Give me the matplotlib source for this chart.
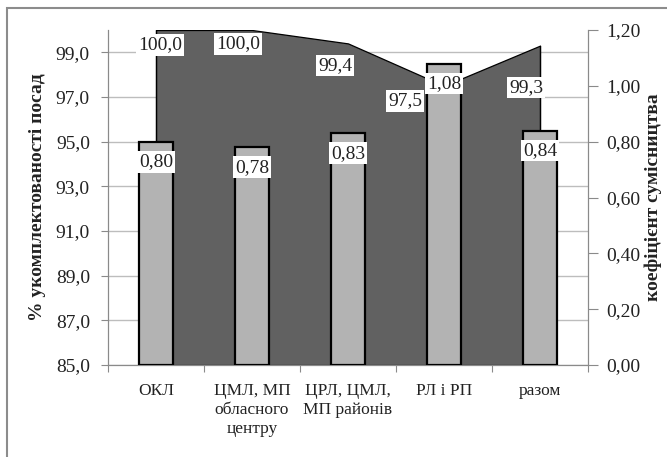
import matplotlib.pyplot as plt
from matplotlib.patches import Rectangle
from matplotlib.ticker import FixedLocator, FuncFormatter

plt.rcParams['font.family'] = ['Liberation Serif', 'DejaVu Serif']

# categories of facilities
categories = ['ОКЛ', 'ЦМЛ, МП\nобласного\nцентру', 'ЦРЛ, ЦМЛ,\nМП районів',
              'РЛ і РП', 'разом']
# % of staffed positions (left axis, area)
staffing = [100.0, 100.0, 99.4, 97.5, 99.3]
# part-time coefficient (right axis, bars)
part_time = [0.80, 0.78, 0.83, 1.08, 0.84]

# label offsets in pixels (dx, dy down) for the area values
area_offsets = [(4, 15), (-14, 14), (-13, 22), (-39, 15), (-14, 42)]
bar_offset = 20

fig = plt.figure(figsize=(6.67, 4.57), dpi=100)
ax = fig.add_axes([108 / 667, 1 - 365 / 457, 480 / 667, 335 / 457])
ax2 = ax.twinx()

x = list(range(len(categories)))
grid_c = '#bdbdbd'
spine_c = '#8a8a8a'
text_c = '#222222'
fs = 14

# area for staffing
ax.fill_between(x, 85, staffing, facecolor='#616161', edgecolor='black',
                linewidth=0.9, zorder=2)
ax.plot([x[0], x[0]], [85, staffing[0]], color='black', lw=0.9, zorder=3)
ax.plot([x[-1], x[-1]], [85, staffing[-1]], color='black', lw=0.9, zorder=3)
ax.set_xlim(-0.5, len(categories) - 0.5)
ax.set_ylim(85, 100)
ax.yaxis.set_major_locator(FixedLocator([85, 87, 89, 91, 93, 95, 97, 99]))
ax.yaxis.set_major_formatter(FuncFormatter(lambda v, p: f'{v:.1f}'.replace('.', ',')))
ax.grid(axis='y', color=grid_c, lw=1, zorder=0)
ax.set_axisbelow(True)

# bars for part-time coefficient
ax2.bar(x, part_time, width=0.35, color='#b3b3b3', edgecolor='black',
        linewidth=1.6, zorder=3)
ax2.set_ylim(0, 1.2)
ax2.yaxis.set_major_locator(FixedLocator([0, 0.2, 0.4, 0.6, 0.8, 1.0, 1.2]))
ax2.yaxis.set_major_formatter(FuncFormatter(lambda v, p: f'{v:.2f}'.replace('.', ',')))

# category ticks between groups, labels at centres
ax.set_xticks([i - 0.5 for i in range(len(categories) + 1)])
ax.set_xticklabels([])
ax.set_xticks(x, minor=True)
ax.set_xticklabels(categories, minor=True, fontsize=12.5, color=text_c,
                   linespacing=1.25)
ax.tick_params(axis='x', which='minor', length=0, pad=13)
ax.tick_params(axis='x', which='major', length=5, color=spine_c)
ax.tick_params(axis='y', length=5, color=spine_c, labelsize=fs,
               labelcolor=text_c, pad=8)
ax2.tick_params(axis='y', length=7, color=spine_c, labelsize=fs,
                labelcolor=text_c, pad=6)

for a in (ax, ax2):
    for s in a.spines.values():
        s.set_color(spine_c)
    a.spines['top'].set_visible(False)

ax.set_ylabel('% укомплектованості посад', fontsize=fs, fontweight='bold',
              color=text_c, labelpad=7)
ax2.set_ylabel('коефіцієнт сумісництва', fontsize=fs, fontweight='bold',
               color=text_c, labelpad=3)

box = dict(boxstyle='square,pad=0.12', facecolor='white', edgecolor='none')
px = 0.72
for i, v in enumerate(staffing):
    dx, dy = area_offsets[i]
    ax2.annotate(f'{v:.1f}'.replace('.', ','), xy=(i, v), xycoords=ax.transData,
                 xytext=(dx * px, -dy * px), textcoords='offset points',
                 ha='center', va='center', fontsize=fs, color=text_c,
                 bbox=box, zorder=6, annotation_clip=False)
for i, v in enumerate(part_time):
    ax2.annotate(f'{v:.2f}'.replace('.', ','), xy=(i, v),
                 xytext=(0, -bar_offset * px), textcoords='offset points',
                 ha='center', va='center', fontsize=fs, color=text_c,
                 bbox=box, zorder=6)

# chart frame
fig.patches.append(Rectangle((7 / 667, -0.1), 2, (457 - 8) / 457 + 0.1,
                             transform=fig.transFigure, fill=False,
                             edgecolor='#8c8c8c', lw=1.5))

fig.savefig('out.png', dpi=100)
